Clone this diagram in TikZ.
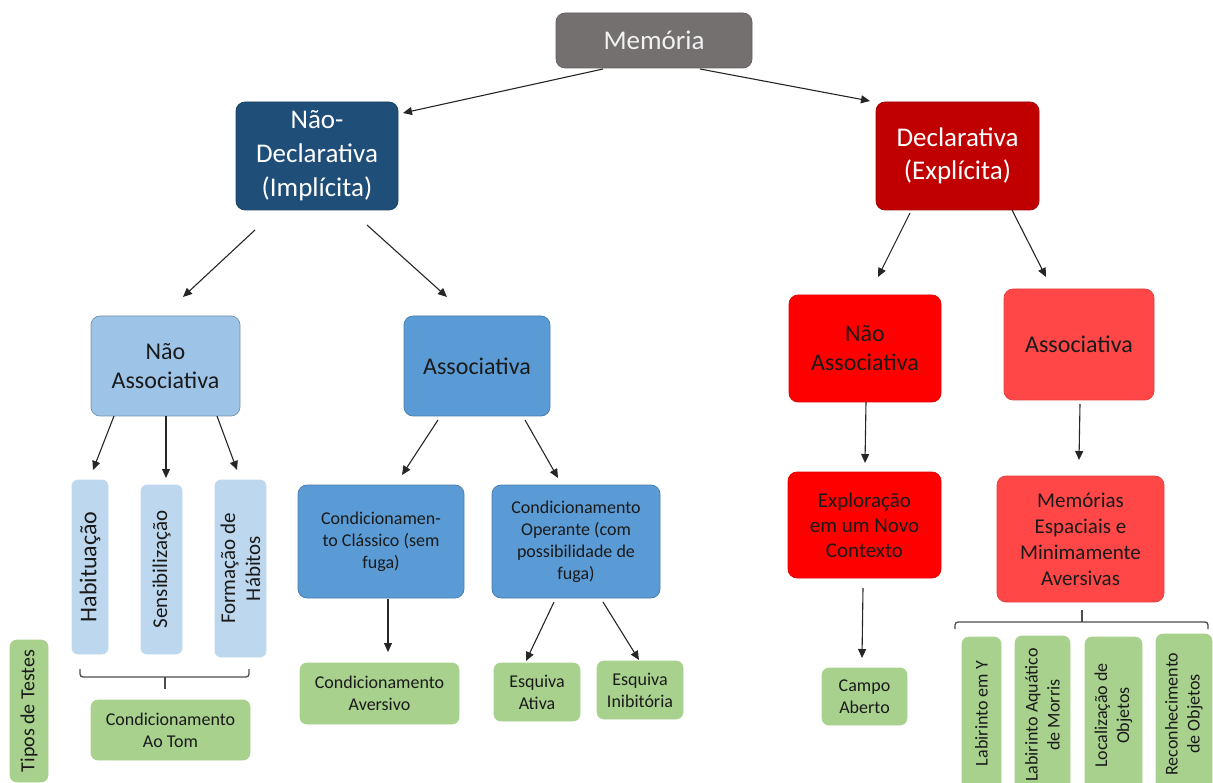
\documentclass[tikz,border=0pt]{standalone}
\usepackage{fontspec}
\setmainfont{Carlito}
\usetikzlibrary{arrows.meta}
\definecolor{cgray}{HTML}{757070}
\definecolor{cdblue}{HTML}{1F4E79}
\definecolor{cdred}{HTML}{C00000}
\definecolor{clblue}{HTML}{9DC3E6}
\definecolor{cmblue}{HTML}{5B9BD5}
\definecolor{cpblue}{HTML}{BDD7EE}
\definecolor{cgreen}{HTML}{A9D18E}
\definecolor{cred}{HTML}{FF0000}
\definecolor{clred}{HTML}{FF4747}
\definecolor{ctext}{HTML}{1A1A1A}
\begin{document}
\begin{tikzpicture}[x=1pt,y=-1pt,
  box/.style={rounded corners=9pt, align=center, inner sep=1pt, line width=0.7pt, text=ctext},
  grayb/.style={box, fill=cgray, draw=cgray!85!black, text=white!95!black},
  dblueb/.style={box, fill=cdblue, draw=cdblue!85!black, text=white},
  dredb/.style={box, fill=cdred, draw=cdred!85!black, text=white},
  lblueb/.style={box, fill=clblue, draw=clblue!75!black},
  mblueb/.style={box, fill=cmblue, draw=cmblue!80!black},
  pblueb/.style={box, fill=cpblue, draw=cpblue, rounded corners=6pt},
  greenb/.style={box, fill=cgreen, draw=cgreen, rounded corners=7pt},
  redb/.style={box, fill=cred, draw=cred!90!black},
  lredb/.style={box, fill=clred, draw=clred!90!black},
  arr/.style={-{Triangle[length=9pt,width=8pt]}, line width=1.1pt, draw=black!85},
  brk/.style={line width=1.3pt, draw=black!70, rounded corners=3pt},
  sz/.style 2 args={minimum width=#1pt, minimum height=#2pt},
]
\useasboundingbox (0,0) rectangle (1213,783);
\clip (0,0) rectangle (1213,783);

% level 0
\node[grayb, sz={196}{55}, font=\fontsize{27}{33}\selectfont] (mem) at (654,40.5) {Memória};

% level 1
\node[dblueb, sz={162}{108}, font=\fontsize{27}{34}\selectfont] (nd) at (317,156) {Não-\\Declarativa\\(Implícita)};
\node[dredb, sz={163}{108}, font=\fontsize{27}{33}\selectfont] (dec) at (957.5,156) {Declarativa\\(Explícita)};

% level 2
\node[lblueb, sz={149}{100}, font=\fontsize{24}{29}\selectfont] (na) at (165.5,366) {Não\\Associativa};
\node[mblueb, sz={146}{100}, font=\fontsize{24}{29}\selectfont] (as) at (477,366) {Associativa};
\node[redb, sz={152}{107}, font=\fontsize{24}{29}\selectfont] (nar) at (865,348.5) {Não\\Associativa};
\node[lredb, sz={150}{111}, font=\fontsize{24}{29}\selectfont] (asr) at (1079,344.5) {Associativa};

% level 3 left
\node[pblueb, sz={174}{36}, rotate=90, font=\fontsize{24}{28}\selectfont] (hab) at (90,567) {Habituação};
\node[pblueb, sz={169}{41}, rotate=90, font=\fontsize{21}{25}\selectfont] (sen) at (161.5,569.5) {Sensibilização};
\node[pblueb, sz={177}{51}, rotate=90, font=\fontsize{21}{25}\selectfont] (form) at (240.5,568.5) {Formação de\\Hábitos};

\node[mblueb, sz={166}{113}, font=\fontsize{18}{22}\selectfont] (cc) at (381,541.5) {Condicionamen-\\to Clássico (sem\\fuga)};
\node[mblueb, sz={168}{113}, font=\fontsize{18}{22}\selectfont] (co) at (576,541.5) {Condicionamento\\Operante (com\\possibilidade de\\fuga)};

% level 3 right
\node[redb, sz={153}{106}, font=\fontsize{21}{25}\selectfont] (exp) at (864.5,525) {Exploração\\em um Novo\\Contexto};
\node[lredb, sz={167}{126}, font=\fontsize{21}{26}\selectfont] (mems) at (1080.5,539) {Memórias\\Espaciais e\\Minimamente\\Aversivas};

% tests
\node[greenb, sz={142}{38}, rotate=90, font=\fontsize{20}{24}\selectfont] (tipos) at (29,711) {Tipos de Testes};
\node[greenb, sz={159}{60}, font=\fontsize{18}{22}\selectfont] (tom) at (170.5,730) {Condicionamento\\Ao Tom};
\node[greenb, sz={159}{61}, font=\fontsize{18}{22}\selectfont] (cav) at (379.5,693.5) {Condicionamento\\Aversivo};
\node[greenb, sz={86}{58}, font=\fontsize{18}{22}\selectfont] (ea) at (537,692) {Esquiva\\Ativa};
\node[greenb, sz={86}{58}, font=\fontsize{18}{22}\selectfont] (ei) at (640,690) {Esquiva\\Inibitória};
\node[greenb, sz={85}{57}, font=\fontsize{18}{22}\selectfont] (campo) at (864.5,696.5) {Campo\\Aberto};
\node[greenb, sz={153}{39}, rotate=90, font=\fontsize{18}{22}\selectfont] (ly) at (981.5,713.5) {Labirinto em Y};
\node[greenb, sz={158}{55}, rotate=90, font=\fontsize{18}{22}\selectfont] (laq) at (1042.5,715) {Labirinto Aquático\\de Morris};
\node[greenb, sz={157}{57}, rotate=90, font=\fontsize{18}{22}\selectfont] (loc) at (1113.5,715.5) {Localização de\\Objetos};
\node[greenb, sz={160}{56}, rotate=90, font=\fontsize{18}{22}\selectfont] (rec) at (1184,714) {Reconhecimento\\de Objetos};

% arrow end points
\coordinate (m1) at (603,69);   \coordinate (m1e) at (403,113);
\coordinate (m2) at (700,69);   \coordinate (m2e) at (870,101);
\coordinate (n1) at (255,230);  \coordinate (n1e) at (183,297);
\coordinate (n2) at (367,225);  \coordinate (n2e) at (447,297);
\coordinate (d1) at (910,213);  \coordinate (d1e) at (878,277);
\coordinate (d2) at (1012,210); \coordinate (d2e) at (1046,277);
\coordinate (a1) at (114,416);  \coordinate (a1e) at (93,470);
\coordinate (a2) at (166,416);  \coordinate (a2e) at (166,478);
\coordinate (a3) at (217,416);  \coordinate (a3e) at (237,470);
\coordinate (b1) at (438,420);  \coordinate (b1e) at (402,475);
\coordinate (b2) at (525,420);  \coordinate (b2e) at (558,478);
\coordinate (c1) at (388,599);  \coordinate (c1e) at (388,652);
\coordinate (o1) at (554,602);  \coordinate (o1e) at (526,661);
\coordinate (o2) at (603,602);  \coordinate (o2e) at (639,660);
\coordinate (r1) at (866,402);  \coordinate (r1e) at (865,463);
\coordinate (r2) at (1080,404); \coordinate (r2e) at (1079,460);
\coordinate (e1) at (863,588);  \coordinate (e1e) at (862,658);

\draw[arr] (m1) -- (m1e);
\draw[arr] (m2) -- (m2e);
\draw[arr] (n1) -- (n1e);
\draw[arr] (n2) -- (n2e);
\draw[arr] (d1) -- (d1e);
\draw[arr] (d2) -- (d2e);
\draw[arr] (a1) -- (a1e);
\draw[arr] (a2) -- (a2e);
\draw[arr] (a3) -- (a3e);
\draw[arr] (b1) -- (b1e);
\draw[arr] (b2) -- (b2e);
\draw[arr] (c1) -- (c1e);
\draw[arr] (o1) -- (o1e);
\draw[arr] (o2) -- (o2e);
\draw[arr] (r1) -- (r1e);
\draw[arr] (r2) -- (r2e);
\draw[arr] (e1) -- (e1e);

% brackets
\coordinate (bl1) at (80,669); \coordinate (bl2) at (249,669);
\coordinate (blt) at (165,677); \coordinate (blte) at (165,689);
\draw[brk] (bl1) -- (80,677) -- (249,677) -- (bl2);
\draw[line width=1.3pt, draw=black!70] (blt) -- (blte);

\coordinate (br1) at (955,629); \coordinate (br2) at (1208,629);
\coordinate (brt) at (1082,622); \coordinate (brte) at (1082,610);
\draw[brk] (br1) -- (955,622) -- (1208,622) -- (br2);
\draw[line width=1.3pt, draw=black!70] (brt) -- (brte);
\end{tikzpicture}
\end{document}
